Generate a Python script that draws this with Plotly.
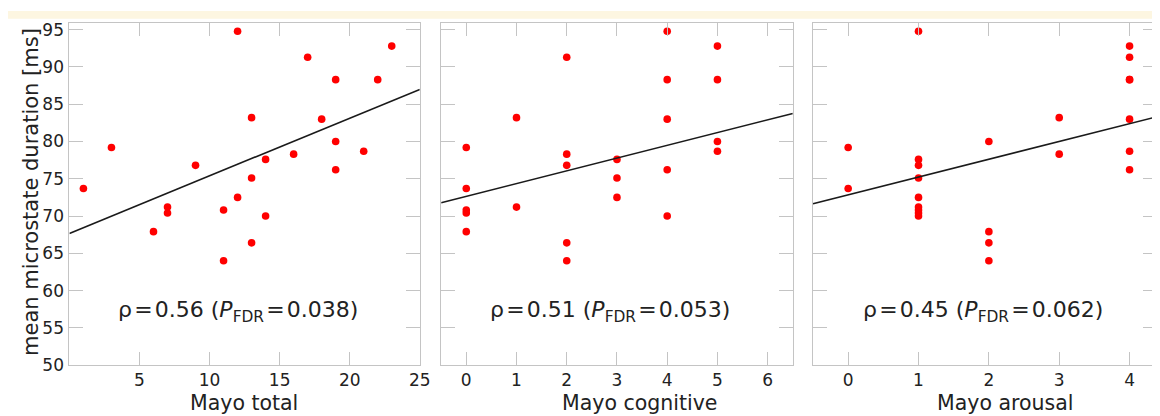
import plotly.graph_objects as go

# ---- data ----
duration_ms = [73.7, 79.2, 67.9, 71.2, 70.4, 76.8, 70.8, 64.0, 94.8, 72.5, 83.2, 75.1,
               66.4, 77.6, 70.0, 78.3, 91.3, 83.0, 88.3, 80.0, 76.2, 78.7, 88.3, 92.8]
mayo_total = [1, 3, 6, 7, 7, 9, 11, 11, 12, 12, 13, 13, 13, 14, 14, 16, 17, 18, 19, 19, 19, 21, 22, 23]
mayo_cognitive = [0, 0, 0, 1, 0, 2, 0, 2, 4, 3, 1, 3, 2, 3, 4, 2, 2, 4, 4, 5, 4, 5, 5, 5]
mayo_arousal = [0, 0, 2, 1, 1, 1, 1, 2, 1, 1, 3, 1, 2, 1, 1, 3, 4, 4, 4, 2, 4, 4, 4, 4]

panel_titles = ["Mayo total", "Mayo cognitive", "Mayo arousal"]
fit_intercept = [67.67, 72.64, 72.84]
fit_slope = [0.773, 1.711, 2.389]
rho_text = ["0.56", "0.51", "0.45"]
p_fdr_text = ["0.038", "0.053", "0.062"]
x_ranges = [[0, 25], [-0.5, 6.5], [-0.5, 4.39]]
x_ticks = [[5, 10, 15, 20, 25], [0, 1, 2, 3, 4, 5, 6], [0, 1, 2, 3, 4]]
y_ticks = [50, 55, 60, 65, 70, 75, 80, 85, 90, 95]

W, H = 1160, 416
FONT = "DejaVu Sans"
GRAY = "#c4c4c4"
TXT = "#222222"

x_domains_px = [(62, 415.7), (437.3, 792.3), (812.7, 1160)]
y_dom = [1 - 365.5 / H, 1 - 12.7 / H]
xs_all = [mayo_total, mayo_cognitive, mayo_arousal]
ann_x_data = [12.0, 2.87, 1.91]
xtitle_px = [238, 638, 1007]

fig = go.Figure()
layout = dict(
    width=W, height=H,
    margin=dict(l=0, r=0, t=0, b=0),
    paper_bgcolor="white", plot_bgcolor="white",
    showlegend=False,
    font=dict(family=FONT, color=TXT),
)
annotations = []
for i in range(3):
    sfx = "" if i == 0 else str(i + 1)
    xa, ya = "x" + sfx, "y" + sfx
    xs = xs_all[i]
    fig.add_trace(go.Scatter(
        x=xs, y=duration_ms, mode="markers", xaxis=xa, yaxis=ya,
        marker=dict(color="#ff0000", size=7.6, line=dict(width=0)),
        cliponaxis=False,
    ))
    x0, x1 = x_ranges[i]
    fig.add_trace(go.Scatter(
        x=[x0, x1],
        y=[fit_intercept[i] + fit_slope[i] * x0, fit_intercept[i] + fit_slope[i] * x1],
        mode="lines", xaxis=xa, yaxis=ya,
        line=dict(color="#1a1a1a", width=1.6),
    ))
    d0, d1 = x_domains_px[i]
    layout["xaxis" + sfx] = dict(
        domain=[d0 / W, d1 / W], range=x_ranges[i], anchor=ya,
        tickmode="array", tickvals=x_ticks[i],
        ticks="inside", ticklen=13, tickcolor=GRAY, tickwidth=1,
        showline=True, linecolor=GRAY, linewidth=1, mirror="ticks",
        showgrid=False, zeroline=False,
        tickfont=dict(family=FONT, size=17, color=TXT),
        ticklabelstandoff=0,
        fixedrange=True,
    )
    layout["yaxis" + sfx] = dict(
        domain=y_dom, range=[50, 95.86], anchor=xa,
        tickmode="array", tickvals=y_ticks,
        showticklabels=(i == 0),
        ticks="inside", ticklen=14, tickcolor=GRAY, tickwidth=1,
        showline=True, linecolor=GRAY, linewidth=1, mirror="ticks",
        showgrid=False, zeroline=False,
        tickfont=dict(family=FONT, size=17, color=TXT),
        ticklabelstandoff=1,
        fixedrange=True,
    )
    annotations.append(dict(
        xref=xa, yref=ya, x=ann_x_data[i], y=57.25,
        text="ρ\u200a=\u200a%s (<i>P</i><sub>FDR</sub>\u200a=\u200a%s)" % (rho_text[i], p_fdr_text[i]),
        showarrow=False, xanchor="center", yanchor="middle",
        font=dict(family=FONT, size=22, color=TXT),
    ))
    annotations.append(dict(
        xref="paper", yref="paper", x=xtitle_px[i] / W, y=1 - 404.5 / H,
        text=panel_titles[i], showarrow=False, xanchor="center", yanchor="middle",
        font=dict(family=FONT, size=20.5, color=TXT),
    ))

annotations.append(dict(
    xref="paper", yref="paper", x=23 / W, y=1 - 187 / H,
    text="mean microstate duration [ms]", textangle=-90, showarrow=False,
    xanchor="center", yanchor="middle",
    font=dict(family=FONT, size=21, color=TXT),
))
layout["annotations"] = annotations
layout["shapes"] = [dict(
    type="rect", xref="paper", yref="paper", x0=0, x1=1, y0=1 - 8 / H, y1=1,
    fillcolor="#fdf6e1", line=dict(width=0), layer="below",
)]
fig.update_layout(**layout)
fig.write_html("out.html")
